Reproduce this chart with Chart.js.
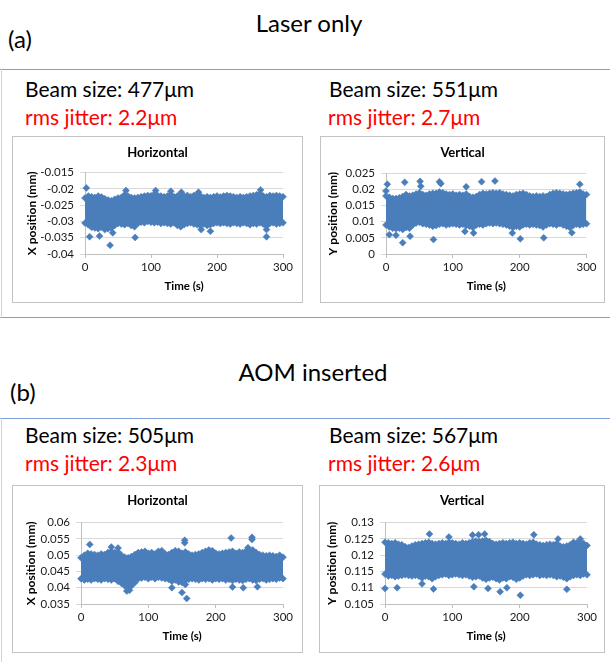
<!DOCTYPE html>
<html><head><meta charset="utf-8">
<script src="https://cdn.jsdelivr.net/npm/chart.js@4"></script>
<style>
html,body{margin:0;padding:0;background:#fff;}
body{width:610px;height:662px;position:relative;overflow:hidden;font-family:Lato,'Open Sans',sans-serif;}
.t{position:absolute;white-space:nowrap;color:#000;}
.big{font-size:24px;line-height:24px;}
.mid{font-size:21px;line-height:21px;}
.red{color:#ff0000;}
.hline{position:absolute;height:1px;background:#7f9fd4;}
.vline{position:absolute;width:1px;background:#c6d4ec;}
.box{position:absolute;border:1px solid #c3c3c3;box-sizing:border-box;}
canvas{position:absolute;}
</style></head><body>
<script>
// ---------- data ----------
const envT = [0,5,10,15,20,25,30,35,40,45,50,55,60,65,70,75,80,85,90,95,100,105,110,115,120,125,130,135,140,145,150,155,160,165,170,175,180,185,190,195,200,205,210,215,220,225,230,235,240,245,250,255,260,265,270,275,280,285,290,295,300];

// (a) Laser only - Horizontal : upper / lower edge of the point cloud
const aH_up = [-0.0228,-0.0222,-0.0224,-0.0226,-0.0222,-0.0225,-0.0230,-0.0234,-0.0236,-0.0232,
-0.0228,-0.0226,-0.0218,-0.0222,-0.0226,-0.0228,-0.0226,-0.0224,-0.0222,-0.0220,
-0.0221,-0.0216,-0.0220,-0.0222,-0.0224,-0.0222,-0.0218,-0.0224,-0.0222,-0.0218,
-0.0222,-0.0220,-0.0224,-0.0220,-0.0218,-0.0222,-0.0226,-0.0224,-0.0226,-0.0224,
-0.0222,-0.0225,-0.0222,-0.0220,-0.0222,-0.0224,-0.0226,-0.0224,-0.0226,-0.0224,
-0.0222,-0.0220,-0.0218,-0.0214,-0.0222,-0.0224,-0.0220,-0.0222,-0.0220,-0.0222,-0.0224];
const aH_lo = [-0.0305,-0.0310,-0.0318,-0.0320,-0.0322,-0.0318,-0.0325,-0.0322,-0.0320,-0.0312,
-0.0306,-0.0308,-0.0310,-0.0306,-0.0312,-0.0316,-0.0306,-0.0302,-0.0304,-0.0300,
-0.0302,-0.0304,-0.0302,-0.0306,-0.0304,-0.0306,-0.0308,-0.0304,-0.0312,-0.0316,
-0.0310,-0.0306,-0.0304,-0.0308,-0.0310,-0.0312,-0.0308,-0.0312,-0.0310,-0.0306,
-0.0304,-0.0306,-0.0304,-0.0306,-0.0308,-0.0304,-0.0306,-0.0308,-0.0304,-0.0306,
-0.0310,-0.0306,-0.0308,-0.0304,-0.0308,-0.0314,-0.0306,-0.0304,-0.0308,-0.0306,-0.0304];
const aH_outT = [2,7,22,38,42,62,76,107,130,146,172,176,190,266,275,275];
const aH_outV = [-0.0197,-0.0347,-0.0345,-0.0373,-0.0335,-0.0205,-0.0349,-0.0205,-0.0207,-0.0210,-0.0210,-0.0325,-0.0330,-0.0203,-0.0325,-0.0347];

// (a) Laser only - Vertical
const aV_up = [0.0180,0.0176,0.0172,0.0172,0.0174,0.0178,0.0184,0.0180,0.0182,0.0186,
0.0190,0.0184,0.0182,0.0186,0.0188,0.0188,0.0192,0.0190,0.0186,0.0184,
0.0186,0.0182,0.0184,0.0182,0.0186,0.0178,0.0176,0.0178,0.0184,0.0188,
0.0186,0.0188,0.0190,0.0188,0.0190,0.0186,0.0184,0.0182,0.0180,0.0184,
0.0186,0.0188,0.0184,0.0180,0.0178,0.0180,0.0178,0.0180,0.0178,0.0184,
0.0188,0.0190,0.0188,0.0186,0.0184,0.0186,0.0188,0.0190,0.0192,0.0186,0.0184];
const aV_lo = [0.0090,0.0084,0.0080,0.0078,0.0080,0.0076,0.0082,0.0080,0.0090,0.0096,
0.0098,0.0094,0.0092,0.0090,0.0086,0.0088,0.0092,0.0094,0.0090,0.0092,
0.0094,0.0092,0.0090,0.0092,0.0088,0.0086,0.0082,0.0090,0.0092,0.0090,
0.0094,0.0096,0.0094,0.0096,0.0094,0.0092,0.0090,0.0086,0.0082,0.0086,
0.0084,0.0090,0.0092,0.0090,0.0092,0.0090,0.0088,0.0084,0.0090,0.0094,
0.0092,0.0090,0.0094,0.0090,0.0086,0.0082,0.0088,0.0092,0.0090,0.0092,0.0094];
const aV_outT = [0,2,5,15,25,28,36,51,52,71,80,82,118,120,131,143,163,189,201,236,278,290];
const aV_outV = [0.0195,0.0216,0.0060,0.0058,0.0035,0.0222,0.0055,0.0225,0.0210,0.0045,0.0224,0.0218,0.0070,0.0208,0.0065,0.0224,0.0226,0.0065,0.0047,0.0050,0.0066,0.0216];

// (b) AOM inserted - Horizontal
const bH_up = [0.0492,0.0500,0.0506,0.0504,0.0502,0.0500,0.0504,0.0502,0.0508,0.0512,
0.0508,0.0510,0.0500,0.0494,0.0492,0.0496,0.0502,0.0508,0.0510,0.0512,
0.0506,0.0508,0.0504,0.0512,0.0514,0.0504,0.0502,0.0508,0.0514,0.0512,
0.0506,0.0510,0.0504,0.0500,0.0502,0.0504,0.0508,0.0512,0.0516,0.0514,
0.0506,0.0504,0.0506,0.0508,0.0510,0.0512,0.0506,0.0510,0.0508,0.0512,
0.0510,0.0516,0.0508,0.0502,0.0500,0.0498,0.0500,0.0498,0.0496,0.0500,0.0494];
const bH_lo = [0.0428,0.0424,0.0426,0.0424,0.0428,0.0426,0.0424,0.0428,0.0426,0.0424,
0.0428,0.0420,0.0414,0.0406,0.0400,0.0406,0.0416,0.0428,0.0430,0.0432,
0.0428,0.0432,0.0428,0.0432,0.0430,0.0428,0.0426,0.0420,0.0424,0.0418,
0.0416,0.0410,0.0426,0.0428,0.0426,0.0424,0.0428,0.0426,0.0428,0.0424,
0.0428,0.0426,0.0428,0.0424,0.0426,0.0422,0.0426,0.0424,0.0422,0.0426,
0.0428,0.0424,0.0422,0.0426,0.0428,0.0424,0.0426,0.0428,0.0426,0.0430,0.0428];
const bH_outT = [13,45,55,68,72,135,150,154,154,157,223,225,241,248,254,254,262];
const bH_outV = [0.0533,0.0525,0.0522,0.0390,0.0392,0.0400,0.0385,0.0546,0.0538,0.0367,0.0553,0.0402,0.0400,0.0523,0.0555,0.0548,0.0403];

// (b) AOM inserted - Vertical
const bV_up = [0.1240,0.1238,0.1236,0.1238,0.1234,0.1232,0.1226,0.1224,0.1228,0.1232,
0.1234,0.1236,0.1238,0.1240,0.1236,0.1234,0.1236,0.1238,0.1236,0.1240,
0.1238,0.1236,0.1234,0.1238,0.1236,0.1238,0.1242,0.1244,0.1242,0.1244,
0.1246,0.1242,0.1236,0.1234,0.1236,0.1238,0.1236,0.1238,0.1240,0.1236,
0.1238,0.1236,0.1234,0.1238,0.1240,0.1234,0.1232,0.1230,0.1232,0.1234,
0.1232,0.1236,0.1228,0.1226,0.1228,0.1232,0.1240,0.1238,0.1240,0.1236,0.1230];
const bV_lo = [0.1142,0.1136,0.1138,0.1134,0.1136,0.1138,0.1140,0.1138,0.1136,0.1138,
0.1136,0.1130,0.1136,0.1134,0.1128,0.1134,0.1138,0.1140,0.1142,0.1138,
0.1140,0.1142,0.1140,0.1138,0.1140,0.1136,0.1132,0.1134,0.1136,0.1130,
0.1126,0.1130,0.1132,0.1128,0.1124,0.1130,0.1128,0.1134,0.1132,0.1126,
0.1130,0.1136,0.1140,0.1138,0.1140,0.1142,0.1138,0.1140,0.1138,0.1140,
0.1138,0.1134,0.1136,0.1132,0.1128,0.1134,0.1138,0.1140,0.1138,0.1142,0.1140];
const bV_outT = [0,18,55,66,72,95,130,132,139,148,153,171,181,201,221,257,270,290];
const bV_outV = [0.1098,0.1100,0.1112,0.1265,0.1096,0.1256,0.1262,0.1103,0.1263,0.1265,0.1098,0.1088,0.1100,0.1077,0.1263,0.1250,0.1095,0.1250];

// tick values
const xTicks = [0,100,200,300];
const aH_yTicks = [-0.04,-0.035,-0.03,-0.025,-0.02,-0.015];
const aV_yTicks = [0,0.005,0.01,0.015,0.02,0.025];
const bH_yTicks = [0.035,0.04,0.045,0.05,0.055,0.06];
const bV_yTicks = [0.105,0.11,0.115,0.12,0.125,0.13];
</script>

<div class="hline" style="left:0;top:69px;width:610px"></div>
<div class="hline" style="left:0;top:317px;width:610px"></div>
<div class="hline" style="left:0;top:418px;width:610px"></div>
<div class="vline" style="left:1px;top:69px;height:249px"></div>
<div class="vline" style="left:1px;top:418px;height:244px"></div>

<div class="t big" style="left:309px;top:11px;transform:translateX(-50%)">Laser only</div>
<div class="t big" style="left:8px;top:27px">(a)</div>
<div class="t mid" style="left:25px;top:78px">Beam size: 477μm</div>
<div class="t mid red" style="left:25px;top:106px">rms jitter: 2.2μm</div>
<div class="t mid" style="left:329px;top:78px">Beam size: 551μm</div>
<div class="t mid red" style="left:328px;top:106px">rms jitter: 2.7μm</div>

<div class="t big" style="left:313px;top:360px;transform:translateX(-50%)">AOM inserted</div>
<div class="t big" style="left:10px;top:380px">(b)</div>
<div class="t mid" style="left:25px;top:424px">Beam size: 505μm</div>
<div class="t mid red" style="left:25px;top:452px">rms jitter: 2.3μm</div>
<div class="t mid" style="left:329px;top:424px">Beam size: 567μm</div>
<div class="t mid red" style="left:328px;top:452px">rms jitter: 2.6μm</div>

<div class="box" style="left:12px;top:136px;width:291px;height:167px"></div>
<div class="box" style="left:320px;top:136px;width:285px;height:167px"></div>
<div class="box" style="left:12px;top:485px;width:291px;height:168px"></div>
<div class="box" style="left:319px;top:485px;width:286px;height:168px"></div>
<canvas id="cAH"></canvas>
<canvas id="cAV"></canvas>
<canvas id="cBH"></canvas>
<canvas id="cBV"></canvas>

<script>
const BLUE = '#4A7EBB';
Chart.defaults.font.family = 'Lato, "Open Sans", sans-serif';
Chart.defaults.color = '#1a1a1a';

const boxTitle = {
  id: 'boxTitle',
  afterDraw(chart, args, opts) {
    const c = chart.ctx;
    c.save();
    c.font = 'bold 13px Lato, "Open Sans", sans-serif';
    c.fillStyle = '#000';
    c.textAlign = 'center';
    c.textBaseline = 'middle';
    c.fillText(opts.text, chart.width / 2, opts.y);
    c.restore();
  }
};

function pts(xs, ys) { return xs.map((x, i) => ({x: x, y: ys[i]})); }

function build(id, g, up, lo, oT, oV, yTicks, title, yTitle) {
  const cv = document.getElementById(id);
  cv.width = g.w; cv.height = g.h;
  cv.style.left = g.x + 'px'; cv.style.top = g.y + 'px';
  cv.style.width = g.w + 'px'; cv.style.height = g.h + 'px';
  const pt = {pointStyle: 'rectRot', pointRadius: 3.5, pointBorderWidth: 0.5,
              pointBackgroundColor: BLUE, pointBorderColor: BLUE, pointHoverRadius: 3.5};
  new Chart(cv, {
    type: 'line',
    data: {datasets: [
      Object.assign({data: pts(envT, up), borderColor: BLUE, borderWidth: 1, backgroundColor: BLUE,
        fill: false, tension: 0, clip: false}, pt),
      Object.assign({data: pts(envT, lo), borderColor: BLUE, borderWidth: 1, backgroundColor: BLUE,
        fill: '-1', tension: 0, clip: false}, pt),
      Object.assign({data: pts(oT, oV), showLine: false, borderColor: BLUE, backgroundColor: BLUE,
        clip: false}, pt)
    ]},
    options: {
      responsive: false, animation: false, devicePixelRatio: 1,
      events: [],
      layout: {padding: {left: 4, right: g.w - g.R, top: g.T, bottom: 4}},
      plugins: {legend: {display: false}, tooltip: {enabled: false},
                boxTitle: {text: title, y: g.ty}},
      scales: {
        x: {type: 'linear', min: 0, max: 300,
            afterBuildTicks: s => { s.ticks = xTicks.map(v => ({value: v})); },
            ticks: {padding: 2, maxRotation: 0, autoSkip: false, font: {size: 11.5}, color: '#1a1a1a'},
            grid: {drawOnChartArea: false, drawTicks: true, tickLength: 4, color: '#bfbfbf'},
            border: {color: '#bfbfbf'},
            title: {display: true, text: 'Time (s)', color: '#000',
                    font: {size: 11.5, weight: 'bold'}, padding: {top: 0, bottom: g.h - 10.9 - g.xt}},
            afterFit: s => { s.height = g.h - 4 - g.B; }},
        y: {min: yTicks[0], max: yTicks[yTicks.length - 1],
            afterBuildTicks: s => { s.ticks = yTicks.map(v => ({value: v})); },
            ticks: {padding: 6, autoSkip: false, font: {size: 11.5}, color: '#1a1a1a',
                    callback: v => String(+Number(v).toFixed(4))},
            grid: {color: '#d9d9d9', tickLength: 5},
            border: {color: '#bfbfbf'},
            title: {display: true, text: yTitle, color: '#000',
                    font: {size: 12, weight: 'bold'}, padding: {top: g.yt - 11.2, bottom: 0}},
            afterFit: s => { s.width = g.L - 4; }}
      }
    },
    plugins: [boxTitle]
  });
}

build('cAH', {x: 12, y: 136, w: 291, h: 167, L: 73, R: 271, T: 36.7, B: 118, ty: 17, yt: 19.7, xt: 150.7},
      aH_up, aH_lo, aH_outT, aH_outV, aH_yTicks, 'Horizontal', 'X position (mm)');
build('cAV', {x: 320, y: 136, w: 285, h: 167, L: 66, R: 266.5, T: 37.3, B: 118, ty: 17, yt: 13, xt: 150.7},
      aV_up, aV_lo, aV_outT, aV_outV, aV_yTicks, 'Vertical', 'Y position (mm)');
build('cBH', {x: 12, y: 485, w: 291, h: 168, L: 69, R: 271, T: 37.7, B: 119, ty: 16, yt: 18.7, xt: 151},
      bH_up, bH_lo, bH_outT, bH_outV, bH_yTicks, 'Horizontal', 'X position (mm)');
build('cBV', {x: 319, y: 485, w: 286, h: 168, L: 66, R: 268, T: 37.7, B: 119, ty: 15.7, yt: 12.7, xt: 151.7},
      bV_up, bV_lo, bV_outT, bV_outV, bV_yTicks, 'Vertical', 'Y position (mm)');
</script>
</body></html>
